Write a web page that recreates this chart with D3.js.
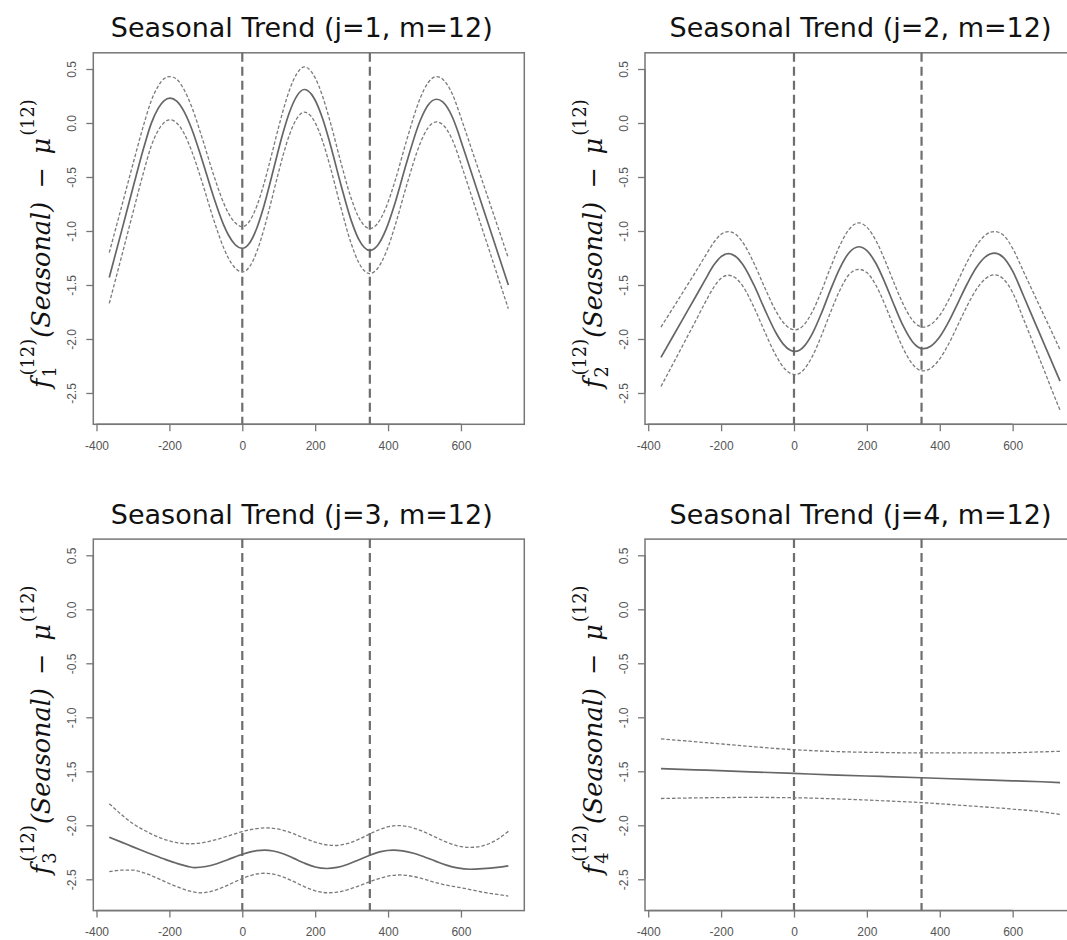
<!DOCTYPE html>
<html><head><meta charset="utf-8">
<script src="https://cdn.jsdelivr.net/npm/d3@7"></script>
<style>body{margin:0;background:#fff;} svg{display:block;}</style>
</head><body>
<svg id="chart" width="1067" height="940"></svg>
<script>
// ---------- data ----------
const xTicks = [-400, -200, 0, 200, 400, 600];
const xTickLabels = ["-400", "-200", "0", "200", "400", "600"];
const yTicks = [0.5, 0.0, -0.5, -1.0, -1.5, -2.0, -2.5];
const yTickLabels = ["0.5", "0.0", "-0.5", "-1.0", "-1.5", "-2.0", "-2.5"];
const refLines = [0, 350];
const titles = ["Seasonal Trend (j=1, m=12)", "Seasonal Trend (j=2, m=12)",
                "Seasonal Trend (j=3, m=12)", "Seasonal Trend (j=4, m=12)"];
const subscripts = ["1", "2", "3", "4"];

const days1 = [-365,-330,-300,-270,-250,-230,-215,-198,-180,-160,-140,-110,-80,-50,-38,-20,0,20,40,58,80,100,112,130,150,170,190,210,221,240,270,299,320,350,370,395,420,450,488,510,533,550,576,592,600,640,680,730];
const fit1 = [-1.43,-0.985,-0.60,-0.225,-0.006,0.14,0.205,0.23,0.202,0.107,-0.044,-0.344,-0.671,-0.952,-1.037,-1.125,-1.16,-1.111,-0.972,-0.785,-0.505,-0.239,-0.089,0.104,0.251,0.31,0.265,0.136,0.034,-0.18,-0.564,-0.904,-1.08,-1.18,-1.139,-0.981,-0.732,-0.378,0.021,0.167,0.22,0.195,0.058,-0.084,-0.166,-0.576,-0.987,-1.50];
const upper1 = [-1.20,-0.76,-0.38,-0.01,0.204,0.345,0.41,0.43,0.405,0.31,0.16,-0.14,-0.467,-0.75,-0.835,-0.922,-0.96,-0.908,-0.768,-0.58,-0.30,-0.034,0.116,0.31,0.458,0.52,0.473,0.343,0.24,0.026,-0.358,-0.70,-0.876,-0.978,-0.935,-0.776,-0.527,-0.172,0.228,0.375,0.43,0.405,0.27,0.13,0.05,-0.35,-0.75,-1.25];
const lower1 = [-1.67,-1.22,-0.83,-0.445,-0.215,-0.065,0.003,0.03,0.0,-0.095,-0.25,-0.55,-0.88,-1.165,-1.252,-1.342,-1.38,-1.33,-1.19,-1.0,-0.718,-0.45,-0.298,-0.104,0.043,0.10,0.057,-0.072,-0.175,-0.39,-0.776,-1.118,-1.295,-1.395,-1.352,-1.193,-0.942,-0.588,-0.19,-0.043,0.01,-0.015,-0.153,-0.295,-0.377,-0.79,-1.203,-1.72];

const days2 = [-365,-330,-300,-270,-245,-220,-200,-180,-160,-140,-110,-80,-50,-30,-10,3,15,30,50,75,100,125,150,178,200,225,250,275,300,325,340,355,375,400,425,450,475,500,525,550,575,600,630,660,690,710,730];
const fit2 = [-2.17,-1.963,-1.786,-1.609,-1.46,-1.316,-1.237,-1.21,-1.236,-1.313,-1.50,-1.728,-1.94,-2.045,-2.104,-2.115,-2.104,-2.059,-1.953,-1.764,-1.548,-1.35,-1.206,-1.146,-1.182,-1.301,-1.482,-1.689,-1.882,-2.025,-2.074,-2.09,-2.067,-1.979,-1.837,-1.665,-1.491,-1.341,-1.24,-1.205,-1.246,-1.371,-1.602,-1.839,-2.075,-2.233,-2.39];
const upper2 = [-1.89,-1.703,-1.541,-1.379,-1.24,-1.106,-1.03,-1.005,-1.031,-1.108,-1.297,-1.526,-1.739,-1.845,-1.904,-1.915,-1.904,-1.859,-1.75,-1.56,-1.34,-1.14,-0.99,-0.925,-0.965,-1.09,-1.275,-1.485,-1.68,-1.825,-1.874,-1.89,-1.867,-1.779,-1.635,-1.46,-1.287,-1.138,-1.038,-1.005,-1.04,-1.161,-1.377,-1.594,-1.81,-1.953,-2.10];
const lower2 = [-2.44,-2.218,-2.026,-1.834,-1.67,-1.521,-1.437,-1.41,-1.436,-1.513,-1.705,-1.935,-2.15,-2.258,-2.318,-2.33,-2.318,-2.272,-2.163,-1.972,-1.755,-1.555,-1.408,-1.355,-1.385,-1.503,-1.686,-1.895,-2.09,-2.232,-2.28,-2.295,-2.272,-2.184,-2.042,-1.868,-1.694,-1.543,-1.442,-1.405,-1.446,-1.571,-1.817,-2.069,-2.32,-2.493,-2.66];

const days3 = [-365,-330,-300,-270,-240,-210,-180,-150,-130,-100,-70,-40,-10,0,20,40,62,85,110,140,170,200,232,260,290,320,350,380,414,440,470,500,530,560,590,625,660,700,730];
const fit3 = [-2.11,-2.158,-2.20,-2.24,-2.28,-2.318,-2.352,-2.38,-2.392,-2.382,-2.356,-2.319,-2.280,-2.268,-2.248,-2.235,-2.23,-2.238,-2.261,-2.304,-2.350,-2.386,-2.40,-2.39,-2.361,-2.319,-2.277,-2.244,-2.23,-2.237,-2.259,-2.293,-2.332,-2.369,-2.395,-2.407,-2.402,-2.39,-2.376];
const days3u = [-365,-330,-300,-270,-240,-210,-180,-143,-110,-70,-40,-10,0,20,40,67,85,110,140,170,200,232,254,290,320,350,380,414,428,440,470,500,530,560,590,625,660,700,730];
const upper3 = [-1.80,-1.905,-1.985,-2.045,-2.095,-2.135,-2.16,-2.171,-2.162,-2.131,-2.10,-2.068,-2.058,-2.042,-2.03,-2.024,-2.028,-2.044,-2.078,-2.119,-2.156,-2.182,-2.187,-2.168,-2.129,-2.08,-2.035,-2.006,-2.003,-2.005,-2.025,-2.063,-2.11,-2.155,-2.19,-2.205,-2.19,-2.13,-2.056];
const days3l = [-365,-330,-300,-270,-240,-210,-180,-150,-116,-90,-60,-30,0,20,40,62,85,110,140,170,200,236,260,290,320,350,380,410,433,470,500,530,560,590,625,660,700,730];
const lower3 = [-2.43,-2.415,-2.415,-2.44,-2.48,-2.525,-2.568,-2.604,-2.625,-2.616,-2.584,-2.539,-2.493,-2.468,-2.451,-2.444,-2.452,-2.476,-2.52,-2.568,-2.607,-2.625,-2.619,-2.596,-2.561,-2.522,-2.488,-2.465,-2.46,-2.475,-2.50,-2.53,-2.555,-2.572,-2.595,-2.62,-2.64,-2.656];

const days4 = [-365,-240,-120,0,120,240,350,480,600,680,730];
const fit4 = [-1.475,-1.49,-1.505,-1.52,-1.535,-1.548,-1.56,-1.575,-1.588,-1.597,-1.605];
const upper4 = [-1.20,-1.235,-1.27,-1.30,-1.318,-1.326,-1.33,-1.33,-1.328,-1.32,-1.315];
const lower4 = [-1.752,-1.745,-1.742,-1.745,-1.756,-1.772,-1.79,-1.82,-1.85,-1.875,-1.90];

const xDomain = [-408.8, 773.8];
const yDomain = [-2.79, 0.65];

// ---------- layout ----------
const panels = [
  {fitDays: days1, upDays: days1, loDays: days1, fit: fit1, upper: upper1, lower: lower1, left: 93.3, top: 52.8, tdx: -7},
  {fitDays: days2, upDays: days2, loDays: days2, fit: fit2, upper: upper2, lower: lower2, left: 645, top: 52.8, tdx: 0},
  {fitDays: days3, upDays: days3u, loDays: days3l, fit: fit3, upper: upper3, lower: lower3, left: 93.3, top: 539.1, tdx: -7},
  {fitDays: days4, upDays: days4, loDays: days4, fit: fit4, upper: upper4, lower: lower4, left: 645, top: 539.1, tdx: 0}
];
const PW = 431, PH = 371.5;

const svg = d3.select("#chart");

const probe = svg.append("text").attr("font-family", "DejaVu Serif").attr("font-style", "italic")
  .attr("font-size", 100).text("(Seasonal)");
const probeW = probe.node().getComputedTextLength();
probe.remove();
const LF = 100 * 136 / probeW;   // main label font size
const SF = LF * 0.7;             // script size

function yLabel(g, cx, cy, sub) {
  const outer = g.append("g").attr("transform", `translate(${cx},${cy}) rotate(-90)`);
  const t = outer.append("g");
  let x = 0;
  function piece(txt, size, italic, dy, px) {
    const el = t.append("text").attr("x", px).attr("y", dy)
      .attr("font-family", "DejaVu Serif").attr("font-size", size)
      .attr("font-style", italic ? "italic" : "normal").attr("fill", "#111").text(txt);
    return el.node().getComputedTextLength();
  }
  const wf = piece("f", LF, true, 0, x);
  const ws = piece(sub, SF, false, LF * 0.24, x + wf + 1);
  const wp = piece("(12)", SF, false, -LF * 0.62, x + wf + 3);
  x += wf + Math.max(ws + 1, wp + 3) + 1;
  x += piece("(Seasonal)", LF, true, 0, x) + 13;
  x += piece("\u2212", LF, false, 0, x) + 13;
  x += piece("\u03bc", LF, true, 0, x) + 2;
  x += piece("(12)", SF, false, -LF * 0.62, x);
  t.attr("transform", `translate(${-x / 2},0)`);
}

panels.forEach((p, i) => {
  const x = d3.scaleLinear().domain(xDomain).range([p.left, p.left + PW]);
  const y = d3.scaleLinear().domain(yDomain).range([p.top + PH, p.top]);
  const g = svg.append("g");

  g.append("text").attr("x", p.left + PW / 2 + p.tdx).attr("y", p.top - 15.5)
    .attr("text-anchor", "middle").attr("font-family", "DejaVu Sans")
    .attr("font-size", 27).attr("fill", "#111").text(titles[i]);

  g.append("rect").attr("x", p.left).attr("y", p.top).attr("width", PW).attr("height", PH)
    .attr("fill", "none").attr("stroke", "#777").attr("stroke-width", 1.5);

  const xa = d3.axisBottom(x).tickValues(xTicks).tickSize(7).tickPadding(10)
    .tickFormat((d, k) => xTickLabels[k]);
  const gx = g.append("g").attr("transform", `translate(0,${p.top + PH})`).call(xa);
  gx.select(".domain").attr("stroke", "#777").attr("stroke-width", 1.5)
    .attr("d", `M${x(xTicks[0])},0H${x(xTicks[xTicks.length - 1])}`);
  gx.selectAll(".tick line").attr("stroke", "#777").attr("stroke-width", 1.3);
  gx.selectAll(".tick text").attr("font-family", "Liberation Sans").attr("font-size", 12)
    .attr("fill", "#555");

  const ya = d3.axisLeft(y).tickValues(yTicks).tickSize(7).tickFormat((d, k) => yTickLabels[k]);
  const gy = g.append("g").attr("transform", `translate(${p.left},0)`).call(ya);
  gy.select(".domain").attr("stroke", "#777").attr("stroke-width", 1.5)
    .attr("d", `M0,${y(yTicks[0])}V${y(yTicks[yTicks.length - 1])}`);
  gy.selectAll(".tick line").attr("stroke", "#777").attr("stroke-width", 1.3);
  gy.selectAll(".tick text").attr("font-family", "Liberation Sans").attr("font-size", 12)
    .attr("fill", "#555").attr("text-anchor", "middle").attr("x", null).attr("dy", null)
    .attr("transform", "translate(-17,0) rotate(-90)");

  yLabel(g, p.left - 43, p.top + PH / 2 + 5, subscripts[i]);

  g.selectAll(".ref").data(refLines).join("line")
    .attr("x1", d => x(d)).attr("x2", d => x(d))
    .attr("y1", p.top).attr("y2", p.top + PH)
    .attr("stroke", "#6e6e6e").attr("stroke-width", 2.2).attr("stroke-dasharray", "9,5");

  const pts = (days, vals) => days.map((d, k) => [d, vals[k]]);
  const line = d3.line().x(d => x(d[0])).y(d => y(d[1])).curve(d3.curveMonotoneX);

  [[p.upDays, p.upper], [p.loDays, p.lower]].forEach(([days, vals]) => {
    g.append("path").attr("d", line(pts(days, vals))).attr("fill", "none")
      .attr("stroke", "#7a7a7a").attr("stroke-width", 1.3).attr("stroke-dasharray", "3.5,2");
  });
  g.append("path").attr("d", line(pts(p.fitDays, p.fit))).attr("fill", "none")
    .attr("stroke", "#666").attr("stroke-width", 1.7);
});
</script>
</body></html>
